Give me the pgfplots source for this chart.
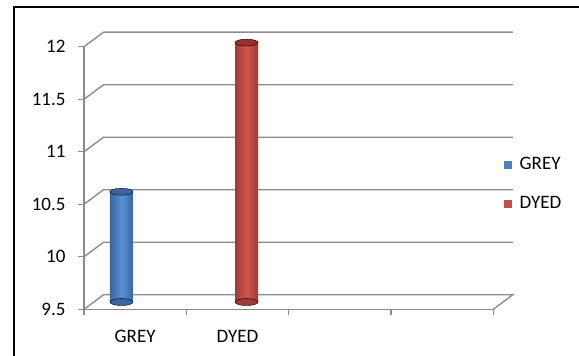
\documentclass[border=0pt]{standalone}
\usepackage{pgfplots}
\pgfplotsset{compat=1.18}
\usepackage{fontspec}
\setmainfont{Carlito}
\definecolor{gridc}{HTML}{8C8C8C}
\definecolor{bluemid}{HTML}{5B90D2}
\definecolor{blueedge}{HTML}{3A66A2}
\definecolor{bluetop}{HTML}{3A649C}
\definecolor{bluesq}{HTML}{4F81BD}
\definecolor{redmid}{HTML}{D2554F}
\definecolor{rededge}{HTML}{A23A36}
\definecolor{redtop}{HTML}{9A302C}
\definecolor{redsq}{HTML}{C0504D}
\begin{document}
\begin{tikzpicture}[x=1pt,y=1pt]
\fontsize{19}{22}\selectfont
\begin{axis}[
  at={(84pt,46.7pt)}, anchor=south west,
  scale only axis, width=409.3pt, height=262.6pt,
  xmin=0, xmax=4, ymin=9.5, ymax=12,
  xtick={0,1,2,3,4}, xticklabels={GREY,DYED,{},{}},
  x tick label as interval,
  ytick={9.5,10,10.5,11,11.5,12},
  yticklabels={9.5,10,10.5,11,11.5,12},
  /pgf/number format/assume math mode=true,
  axis x line*=bottom, axis y line*=left,
  axis line style={-, gridc, line width=1.4pt},
  tick style={gridc, line width=1.4pt},
  tick align=outside, major tick length=6pt,
  ticklabel style={font=\fontsize{19}{22}\selectfont, text=black},
  xticklabel style={yshift=-8pt},
  yticklabel style={xshift=-6pt},
  clip=false,
  legend style={at={(1.025,0.588)}, anchor=north west, draw=none, fill=none,
    font=\fontsize{19}{22}\selectfont, row sep=20pt, inner sep=0pt,
    nodes={inner xsep=8pt}},
  legend cell align=left,
  legend image code/.code={\fill[#1, draw=none] (0pt,-4pt) rectangle (8pt,4pt);},
]
% back wall, floor and side connectors
\draw[gridc, line width=1.4pt] (axis cs:0,9.5) -- ++(19.5pt,14.5pt) -- ++(409.3pt,0pt) -- (axis cs:4,9.5);
\draw[gridc, line width=1.4pt] (axis cs:0,10) -- ++(19.5pt,14.5pt) -- ++(409.3pt,0pt);
\draw[gridc, line width=1.4pt] (axis cs:0,10.5) -- ++(19.5pt,14.5pt) -- ++(409.3pt,0pt);
\draw[gridc, line width=1.4pt] (axis cs:0,11) -- ++(19.5pt,14.5pt) -- ++(409.3pt,0pt);
\draw[gridc, line width=1.4pt] (axis cs:0,11.5) -- ++(19.5pt,14.5pt) -- ++(409.3pt,0pt);
\draw[gridc, line width=1.4pt] (axis cs:0,12) -- ++(19.5pt,14.5pt) -- ++(409.3pt,0pt);
\addlegendimage{fill=bluesq, draw=none}
\addlegendentry{GREY}
\addlegendimage{fill=redsq, draw=none}
\addlegendentry{DYED}
% bottom ellipses
\addplot[only marks, mark=*, mark size=11.5pt, mark options={yscale=0.3, draw=none, fill=blueedge}, xshift=9.75pt, yshift=7.25pt, forget plot]
  coordinates {(0.271,9.5)};
\addplot[only marks, mark=*, mark size=11.5pt, mark options={yscale=0.3, draw=none, fill=rededge}, xshift=9.75pt, yshift=7.25pt, forget plot]
  coordinates {(1.493,9.5)};
% cylinders
\addplot[ybar, bar width=23pt, bar shift=0pt, draw=none, left color=blueedge, right color=blueedge, middle color=bluemid, xshift=9.75pt, yshift=7.25pt, forget plot]
  coordinates {(0.271,10.55)};
\addplot[ybar, bar width=23pt, bar shift=0pt, draw=none, left color=rededge, right color=rededge, middle color=redmid, xshift=9.75pt, yshift=7.25pt, forget plot]
  coordinates {(1.493,11.97)};
% top ellipses
\addplot[only marks, mark=*, mark size=11.5pt, mark options={yscale=0.3, draw=none, fill=bluetop}, xshift=9.75pt, yshift=7.25pt, forget plot]
  coordinates {(0.271,10.55)};
\addplot[only marks, mark=*, mark size=11.5pt, mark options={yscale=0.3, draw=none, fill=redtop}, xshift=9.75pt, yshift=7.25pt, forget plot]
  coordinates {(1.493,11.97)};
\end{axis}
\draw[black, line width=2pt] (13.5,0) -- (13.5,348.5) -- (579,348.5);
\pgfresetboundingbox
\path (0,0) rectangle (579,356);
\end{tikzpicture}
\end{document}
